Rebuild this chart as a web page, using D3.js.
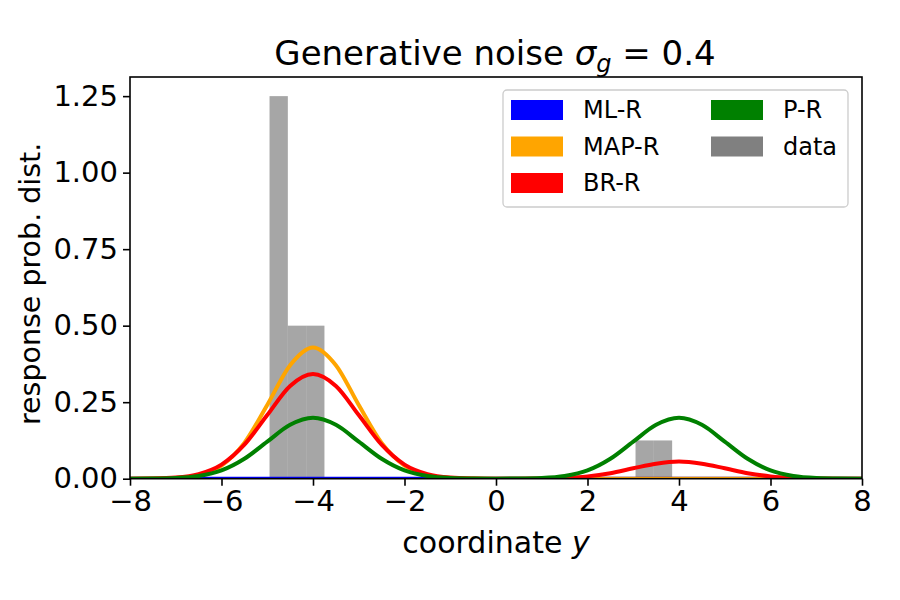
<!DOCTYPE html>
<html>
<head>
<meta charset="utf-8">
<script src="https://cdn.jsdelivr.net/npm/d3@7"></script>
<style>
  body { margin: 0; background: #fff; }
  text { font-family: "DejaVu Sans", sans-serif; fill: #000; }
</style>
</head>
<body>
<svg id="chart" width="900" height="600"></svg>
<script>
// ---- data ----
const xGrid = [-8,-7.5,-7,-6.5,-6,-5.5,-5,-4.5,-4,-3.5,-3,-2.5,-2,-1.5,-1,-0.5,0,0.5,1,1.5,2,2.5,3,3.5,4,4.5,5,5.5,6,6.5,7,7.5,8];
const mlR  = [0,0,0,0,0,0,0,0,0,0,0,0,0,0,0,0,0,0,0,0,0,0,0,0,0,0,0,0,0,0,0,0,0];
const mapR = [0.00005,0.0004,0.0024,0.0116,0.0425,0.117,0.241,0.371,0.429,0.371,0.241,0.117,0.0425,0.0116,0.0024,0.0004,0.00005,0,0,0,0,0,0,0,0,0,0,0,0,0,0,0,0];
const brR  = [0.0001,0.0008,0.0038,0.015,0.046,0.111,0.208,0.303,0.342,0.303,0.208,0.111,0.046,0.015,0.0038,0.0009,0.0001,0.0001,0.0006,0.0025,0.0076,0.018,0.034,0.049,0.056,0.049,0.034,0.018,0.0076,0.0025,0.0006,0.0001,0];
const pR   = [0.0001,0.0004,0.0022,0.0088,0.027,0.065,0.121,0.176,0.199,0.176,0.121,0.065,0.027,0.0088,0.0022,0.0004,0.0001,0.0004,0.0022,0.0088,0.027,0.065,0.121,0.176,0.199,0.176,0.121,0.065,0.027,0.0088,0.0022,0.0004,0.0001];
const seriesNames = ["ML-R","MAP-R","BR-R","P-R"];
const binLeft   = [-4.95,-4.55,-4.15,3.05,3.45];
const binRight  = [-4.55,-4.15,-3.75,3.45,3.85];
const binHeight = [1.25,0.5,0.5,0.125,0.125];
const xTicks = [-8,-6,-4,-2,0,2,4,6,8];
const yTicks = [0,0.25,0.5,0.75,1.0,1.25];
const legendOrder = ["ML-R","MAP-R","BR-R","P-R","data"];

// ---- styling ----
const colors = {"ML-R":"#0000ff","MAP-R":"#ffa500","BR-R":"#ff0000","P-R":"#008000","data":"#808080"};
const seriesValues = {"ML-R":mlR,"MAP-R":mapR,"BR-R":brR,"P-R":pR};

const svg = d3.select("#chart");
const L = 130, R = 862, T = 77, B = 478.7;
const x = d3.scaleLinear().domain([-8, 8]).range([L, R]);
const y = d3.scaleLinear().domain([0, 1.3125]).range([B, T]);

svg.append("defs").append("clipPath").attr("id","clip")
  .append("rect").attr("x",L).attr("y",T).attr("width",R-L).attr("height",B-T);

const plot = svg.append("g").attr("clip-path","url(#clip)");

// histogram bars
plot.selectAll("rect.bar").data(binHeight).enter().append("rect")
  .attr("class","bar")
  .attr("x",(d,i)=>x(binLeft[i]))
  .attr("width",(d,i)=>x(binRight[i])-x(binLeft[i]))
  .attr("y",d=>y(d))
  .attr("height",d=>y(0)-y(d))
  .attr("fill","#808080").attr("fill-opacity",0.7);

// curves
const line = d3.line().x((d,i)=>x(xGrid[i])).y(d=>y(d)).curve(d3.curveMonotoneX);
seriesNames.forEach(name=>{
  plot.append("path").datum(seriesValues[name])
    .attr("d",line).attr("fill","none")
    .attr("stroke",colors[name]).attr("stroke-width",4)
    .attr("stroke-linejoin","round");
});

// axes
const fmtX = d => d < 0 ? "\u2212" + Math.abs(d) : String(d);
const xAxis = svg.append("g").attr("transform",`translate(0,${B})`)
  .call(d3.axisBottom(x).tickValues(xTicks).tickFormat(fmtX).tickSize(7).tickSizeOuter(0).tickPadding(5));
const yAxis = svg.append("g").attr("transform",`translate(${L},0)`)
  .call(d3.axisLeft(y).tickValues(yTicks).tickFormat(d3.format(".2f")).tickSize(7).tickSizeOuter(0).tickPadding(5));
[xAxis,yAxis].forEach(a=>{
  a.select(".domain").remove();
  a.selectAll(".tick line").attr("stroke","#000").attr("stroke-width",1.6);
  a.selectAll(".tick text").attr("font-size",29).attr("font-family","DejaVu Sans").attr("fill","#000");
});

// frame
svg.append("rect").attr("x",L).attr("y",T).attr("width",R-L).attr("height",B-T)
  .attr("fill","none").attr("stroke","#000").attr("stroke-width",1.6);

// axis labels
const xl = svg.append("text").attr("x",(L+R)/2).attr("y",553).attr("text-anchor","middle").attr("font-size",30);
xl.append("tspan").text("coordinate ");
xl.append("tspan").attr("font-style","italic").text("y");

svg.append("text").attr("transform",`translate(40,${(T+B)/2 + 6}) rotate(-90)`)
  .attr("text-anchor","middle").attr("font-size",28.5).text("response prob. dist.");

// title
const tt = svg.append("text").attr("x",(L+R)/2 - 1).attr("y",65).attr("text-anchor","middle").attr("font-size",34);
tt.append("tspan").text("Generative noise ");
tt.append("tspan").attr("font-style","italic").text("\u03c3");
tt.append("tspan").attr("font-style","italic").attr("font-size",24).attr("dy",7).text("g");
tt.append("tspan").attr("dy",-7).text(" = 0.4");

// legend
const lg = svg.append("g");
lg.append("rect").attr("x",503).attr("y",90).attr("width",345).attr("height",117)
  .attr("rx",4).attr("fill","#fff").attr("fill-opacity",0.8).attr("stroke","#cccccc").attr("stroke-width",1.3);
legendOrder.forEach((name,i)=>{
  const col = i < 3 ? 0 : 1, row = i < 3 ? i : i-3;
  const gx = 511 + col*200, gy = 100 + row*36.5;
  lg.append("rect").attr("x",gx).attr("y",gy).attr("width",52).attr("height",20).attr("fill",colors[name]);
  lg.append("text").attr("x",gx+72).attr("y",gy+18).attr("font-size",24).text(name);
});
</script>
</body>
</html>
